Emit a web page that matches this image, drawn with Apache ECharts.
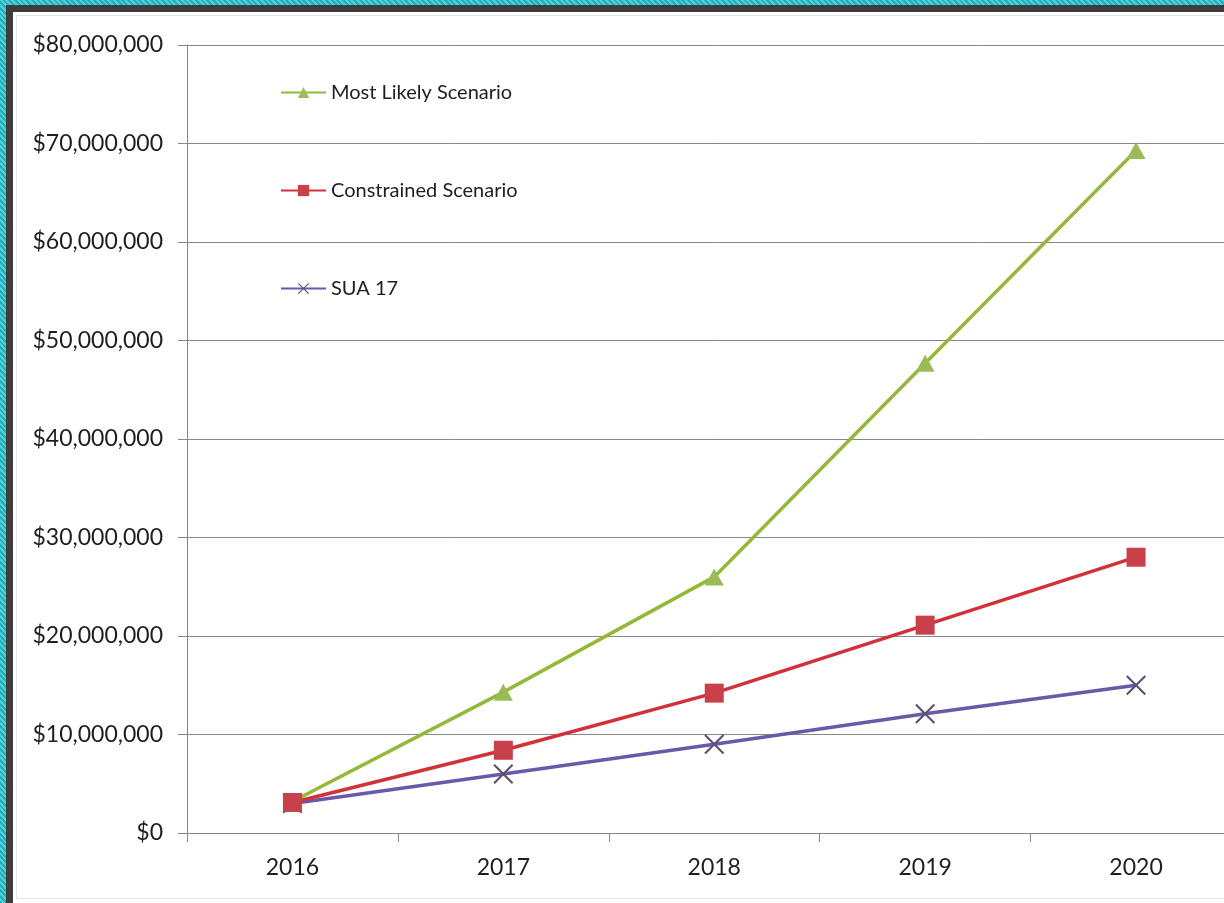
<!DOCTYPE html>
<html>
<head>
<meta charset="utf-8">
<script src="https://cdn.jsdelivr.net/npm/echarts@6/dist/echarts.min.js"></script>
<style>
html,body{margin:0;padding:0;width:1224px;height:903px;overflow:hidden;
background:repeating-linear-gradient(45deg,#1fb0bd 0 2px,#56cdd6 2px 4px);}
#frame{position:absolute;left:6px;top:5px;width:1300px;height:1000px;background:#fff;
border-left:7px solid #3d3d3d;border-top:7px solid #3d3d3d;}
#inner{position:absolute;left:16px;top:15px;width:1300px;height:882px;border:1px solid #e4e4e4;}
#chart{position:absolute;left:0;top:0;width:1260px;height:903px;}
</style>
</head>
<body>
<div id="frame"></div>
<div id="inner"></div>
<div id="chart"></div>
<script>
const years = ['2016','2017','2018','2019','2020'];
const mostLikely = [3200000, 14300000, 26000000, 47700000, 69300000];
const constrained = [3100000, 8400000, 14200000, 21100000, 28000000];
const sua17 = [3000000, 6000000, 9000000, 12100000, 15000000];
const seriesNames = ['Most Likely Scenario','Constrained Scenario','SUA 17'];

const xPath = 'path://M0,1.5 L1.5,0 L10,8.5 L18.5,0 L20,1.5 L11.5,10 L20,18.5 L18.5,20 L10,11.5 L1.5,20 L0,18.5 L8.5,10 Z';
const font = 'Lato, "Open Sans", sans-serif';

const chart = echarts.init(document.getElementById('chart'), null, {renderer:'canvas'});
chart.setOption({
  animation:false,
  backgroundColor:'transparent',
  textStyle:{fontFamily:font},
  legend:{
    orient:'vertical', left:275, top:77, itemGap:77, itemWidth:45, itemHeight:14,
    data:seriesNames,
    textStyle:{fontSize:20, lineHeight:21, color:'#1e1e1e', fontFamily:font}
  },
  grid:{left:187, top:45, right:18.5, bottom:70, containLabel:false},
  xAxis:{
    type:'category', data:years, boundaryGap:true,
    axisLine:{lineStyle:{color:'#868686', width:1}},
    axisTick:{show:true, length:9, lineStyle:{color:'#868686'}},
    axisLabel:{fontSize:23, color:'#1e1e1e', margin:23, fontFamily:font}
  },
  yAxis:{
    type:'value', min:0, max:80000000, interval:10000000,
    axisLine:{show:true, lineStyle:{color:'#868686', width:1}},
    axisTick:{show:true, length:9, lineStyle:{color:'#868686'}},
    splitLine:{lineStyle:{color:'#888', width:1}},
    axisLabel:{fontSize:23, color:'#1e1e1e', margin:24, fontFamily:font,
      formatter:v => '$' + v.toLocaleString('en-US')}
  },
  series:[
    {name:seriesNames[0], type:'line', data:mostLikely, z:2,
     symbol:'triangle', symbolSize:[19,17],
     lineStyle:{color:'#93b83a', width:3.5},
     itemStyle:{color:'#9bbb59'}},
    {name:seriesNames[1], type:'line', data:constrained, z:4,
     symbol:'rect', symbolSize:19,
     lineStyle:{color:'#d3313a', width:3.5},
     itemStyle:{color:'#c8404a'}},
    {name:seriesNames[2], type:'line', data:sua17, z:3,
     symbol:xPath, symbolSize:20,
     lineStyle:{color:'#6b58a8', width:3.5},
     itemStyle:{color:'#5b5272'}}
  ]
});
</script>
</body>
</html>
